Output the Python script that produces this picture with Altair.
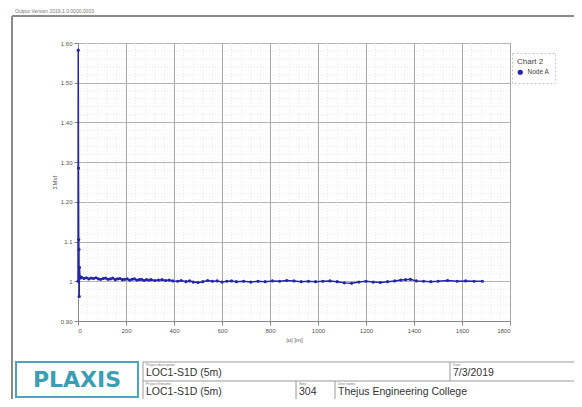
import altair as alt
import pandas as pd

# ---------------- data ----------------
x_vals = [0, 1, 2, 3, 4, 5, 6, 8, 10,
          15, 25, 35, 45, 55, 65, 75, 85, 95, 105, 115, 125, 135, 145, 155, 165, 175, 185, 195,
          205, 215, 225, 235, 245, 255, 265, 275, 285, 295, 305, 320, 335, 350, 365, 380, 395,
          415, 430, 450, 465, 480, 500, 520, 540, 560, 580, 600, 620, 640, 660, 690, 720, 750,
          780, 810, 840, 870, 900, 930, 960,
          990, 1020, 1050, 1080, 1110, 1140, 1170, 1200, 1230, 1260, 1290, 1320, 1345, 1365,
          1385, 1410, 1440, 1470, 1500, 1540, 1580, 1615, 1650, 1685]
y_vals = [1.000, 1.582, 1.285, 1.105, 1.080, 0.962, 1.035, 1.012, 1.008,
          1.010, 1.007, 1.009, 1.006, 1.008, 1.007, 1.009, 1.006, 1.005, 1.007, 1.008, 1.005, 1.006, 1.008, 1.004, 1.006, 1.007, 1.004, 1.005,
          1.006, 1.003, 1.005, 1.006, 1.003, 1.004, 1.005, 1.002, 1.004, 1.003, 1.004, 1.002, 1.003, 1.004, 1.002, 1.003, 1.001,
          1.000, 1.002, 0.999, 1.001, 0.998, 0.997, 0.999, 1.002, 1.000, 1.001, 0.998, 1.000, 1.001, 0.999, 1.000, 0.998, 1.000,
          0.999, 1.001, 1.000, 1.002, 1.001, 0.999, 1.000,
          0.999, 1.000, 1.001, 0.999, 0.996, 0.995, 0.998, 1.000, 0.998, 0.997, 0.999, 1.001, 1.003, 1.004,
          1.005, 1.001, 1.000, 0.999, 1.000, 1.002, 1.000, 1.001, 1.000, 1.000]
series_name = "Node A"
legend_title = "Chart 2"

x_ticks = [0, 200, 400, 600, 800, 1000, 1200, 1400, 1600, 1800]
y_ticks = [0.9, 1.0, 1.1, 1.2, 1.3, 1.4, 1.5, 1.6]
y_tick_labels = ["0.90", "1", "1.1", "1.20", "1.30", "1.40", "1.50", "1.60"]
x_title = "|u| [m]"
y_title = "ΣMsf"

header_text = "Output Version 2019.1.0.0000.0003"
block_labels = ["Project description", "Project filename", "Step", "User name", "Date"]
project_desc = "LOC1-S1D (5m)"
project_name = "LOC1-S1D (5m)"
step_text = "304"
user_text = "Thejus Engineering College"
date_text = "7/3/2019"
logo_text = "PLAXIS"

# ---------------- layout ----------------
FONT = "Liberation Sans"
OX, OY = 78, 43          # page position of plot origin
W, H = 432, 278
BLUE = "#2424ad"

df = pd.DataFrame({"x": x_vals, "y": y_vals, "s": [series_name] * len(x_vals)})

x_scale = alt.Scale(domain=[0, 1800], nice=False, zero=False)
y_scale = alt.Scale(domain=[0.9, 1.6], nice=False, zero=False)

label_expr = " : ".join(
    f"abs(datum.value - {v}) < 1e-6 ? '{l}'" for v, l in zip(y_ticks, y_tick_labels)
) + " : ''"

x_axis = alt.Axis(values=x_ticks, title=x_title, format="d",
                  labelFontSize=6, titleFontSize=6, titleFontWeight="normal",
                  labelColor="#555", titleColor="#555",
                  tickSize=4, labelPadding=2, titlePadding=3,
                  gridColor="#a8a8a8", domainColor="#888", tickColor="#888")
y_axis = alt.Axis(values=y_ticks, title=y_title, labelExpr=label_expr,
                  labelFontSize=6, titleFontSize=6, titleFontWeight="normal",
                  labelColor="#555", titleColor="#555",
                  tickSize=4, labelPadding=2, titlePadding=3,
                  gridColor="#b4b4b4", domainColor="#888", tickColor="#888")

x_minor = [v for v in range(0, 1801, 40) if v % 200 != 0]
y_minor = [round(0.9 + 0.02 * i, 2) for i in range(36) if i % 5 != 0]

minor_x = alt.Chart(pd.DataFrame({"v": x_minor})).mark_rule(
    color="#e2e2e2", strokeWidth=0.8, strokeDash=[1, 2]
).encode(x=alt.X("v:Q", scale=x_scale, axis=x_axis))
minor_y = alt.Chart(pd.DataFrame({"v": y_minor})).mark_rule(
    color="#e2e2e2", strokeWidth=0.8, strokeDash=[1, 2]
).encode(y=alt.Y("v:Q", scale=y_scale, axis=y_axis))

main = alt.Chart(df).mark_line(
    strokeWidth=1.5,
    point=alt.OverlayMarkDef(size=10, filled=True, color="#1a1a8c"),
).encode(
    x=alt.X("x:Q", scale=x_scale, axis=x_axis),
    y=alt.Y("y:Q", scale=y_scale, axis=y_axis),
    color=alt.Color("s:N", scale=alt.Scale(domain=[series_name], range=[BLUE]),
                    legend=alt.Legend(title=legend_title, symbolType="circle")),
)

one = [{"a": 0}]


def txt(s, px, py, size, color="#222", weight="normal", align="left", baseline="middle", font=FONT):
    return alt.Chart(alt.Data(values=[{"t": s}])).mark_text(
        align=align, baseline=baseline, fontSize=size, color=color,
        fontWeight=weight, font=font
    ).encode(x=alt.value(px - OX), y=alt.value(py - OY), text="t:N")


def rule(x1, y1, x2, y2, color="#888", width=1.0):
    return alt.Chart(alt.Data(values=one)).mark_rule(color=color, strokeWidth=width).encode(
        x=alt.value(x1 - OX), x2=alt.value(x2 - OX), y=alt.value(y1 - OY), y2=alt.value(y2 - OY)
    )


logo_box = alt.Chart(alt.Data(values=one)).mark_rect(
    fillOpacity=0, stroke="#4aa6b8", strokeWidth=2
).encode(x=alt.value(16 - OX), x2=alt.value(138 - OX), y=alt.value(362 - OY), y2=alt.value(397 - OY))

decor = [
    # page frame
    rule(12, 16, 578, 16, "#8a8a8a", 2),
    rule(12, 16, 12, 400, "#8a8a8a", 2),
    txt(header_text, 15, 11, 5, "#777"),
    # title block
    logo_box,
    txt(logo_text, 77, 380, 22, "#3a9fb4", "bold", "center", font="DejaVu Sans"),
    rule(143, 362, 578, 362, "#999", 1),
    rule(143, 381, 578, 381, "#999", 1),
    rule(143, 362, 143, 400, "#999", 1),
    rule(450, 362, 450, 381, "#999", 1),
    rule(296, 381, 296, 400, "#999", 1),
    rule(335, 381, 335, 400, "#999", 1),
    txt(block_labels[0], 146, 364.5, 3.5, "#777"),
    txt(project_desc, 146, 373, 10.5, "#333"),
    txt(block_labels[1], 146, 383.5, 3.5, "#777"),
    txt(project_name, 146, 391.5, 10.5, "#333"),
    txt(block_labels[2], 299, 383.5, 3.5, "#777"),
    txt(step_text, 299, 391.5, 10.5, "#333"),
    txt(block_labels[3], 338, 383.5, 3.5, "#777"),
    txt(user_text, 338, 391.5, 10.5, "#333"),
    txt(block_labels[4], 453, 364.5, 3.5, "#777"),
    txt(date_text, 453, 373, 10.5, "#333"),
]

chart = alt.layer(minor_x, minor_y, main, *decor).properties(
    width=W, height=H,
    padding={"left": 70, "top": 35, "right": 64, "bottom": 78},
    autosize=alt.AutoSizeParams(type="none"),
).configure(
    font=FONT
).configure_view(
    stroke="#b0b0b0"
).configure_legend(
    orient="none", legendX=434, legendY=10,
    titleFontSize=8, titleFontWeight="normal", titleColor="#444", titleFont=FONT,
    labelFontSize=6.5, labelColor="#444", labelFont=FONT,
    symbolSize=14, padding=5, strokeColor="#c8c8c8", strokeDash=[2, 2],
    rowPadding=2, titlePadding=3,
)

chart.save("out.html", embed_options={"renderer": "svg", "actions": False})
